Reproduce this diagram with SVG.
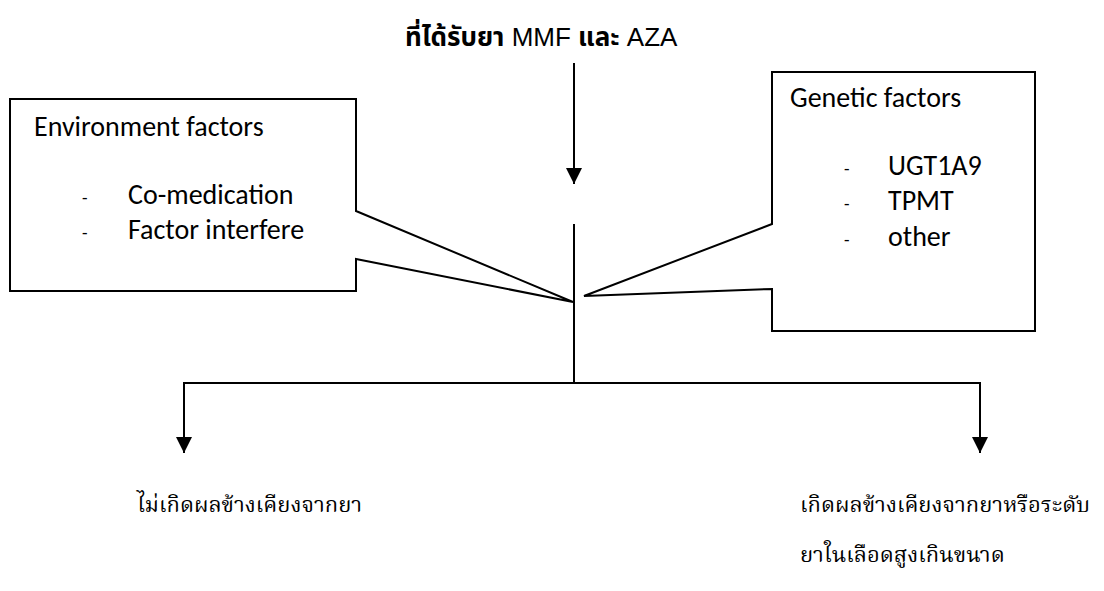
<svg xmlns="http://www.w3.org/2000/svg" width="1104" height="591" viewBox="0 0 1104 591">
<style>
.box{fill:#fff;stroke:#000;stroke-width:2;stroke-linejoin:miter}
.ln{fill:none;stroke:#000;stroke-width:2}
.en{font-family:Carlito,Lato,"Open Sans",sans-serif;font-size:28px;fill:#000}
.ds{font-family:Carlito,Lato,sans-serif;font-size:18px;fill:#000}
.top{font-family:"Liberation Sans","Noto Sans Thai","Noto Sans",sans-serif;font-size:26px;fill:#000}
.th{font-family:"Noto Serif Thai","Noto Sans Thai","Liberation Serif",serif;font-size:22px;fill:#000}
</style>
<defs>
<marker id="ah" markerUnits="userSpaceOnUse" markerWidth="16" markerHeight="16" viewBox="0 0 16 16" refX="16" refY="8" orient="auto">
<path d="M0,0 L16,8 L0,16 z" fill="#000"/>
</marker>
</defs>
<g id="title">
<text class="top" x="405" y="46"><tspan font-weight="bold">ที่ได้รับยา</tspan> MMF <tspan font-weight="bold">และ</tspan> AZA</text>
</g>
<g id="connectors">
<path class="ln" d="M574,63 V184" marker-end="url(#ah)"/>
<path class="ln" d="M574,224 V383"/>
<path class="ln" d="M183,383 H981"/>
<path class="ln" d="M184,383 V453" marker-end="url(#ah)"/>
<path class="ln" d="M980,383 V453" marker-end="url(#ah)"/>
</g>
<g id="env-factors">
<path class="box" d="M10,99 H356 V211 L573,302 L356,259 V291 H10 Z"/>
<text class="en" x="34" y="136">Environment factors</text>
<text class="ds" x="82" y="204">-</text>
<text class="en" x="128" y="204">Co-medication</text>
<text class="ds" x="82" y="239">-</text>
<text class="en" x="128" y="239">Factor interfere</text>
</g>
<g id="genetic-factors">
<path class="box" d="M772,72 H1035 V331 H772 V289 L584,296 L772,224 Z"/>
<text class="en" x="790" y="107">Genetic factors</text>
<text class="ds" x="844" y="175">-</text>
<text class="en" x="888" y="175">UGT1A9</text>
<text class="ds" x="844" y="210">-</text>
<text class="en" x="888" y="210">TPMT</text>
<text class="ds" x="844" y="246">-</text>
<text class="en" x="888" y="246">other</text>
</g>
<g id="no-adr">
<text class="th" x="137" y="512">ไม่เกิดผลข้างเคียงจากยา</text>
</g>
<g id="adr">
<text class="th" x="800" y="512">เกิดผลข้างเคียงจากยาหรือระดับ</text>
<text class="th" x="800" y="562">ยาในเลือดสูงเกินขนาด</text>
</g>
</svg>
